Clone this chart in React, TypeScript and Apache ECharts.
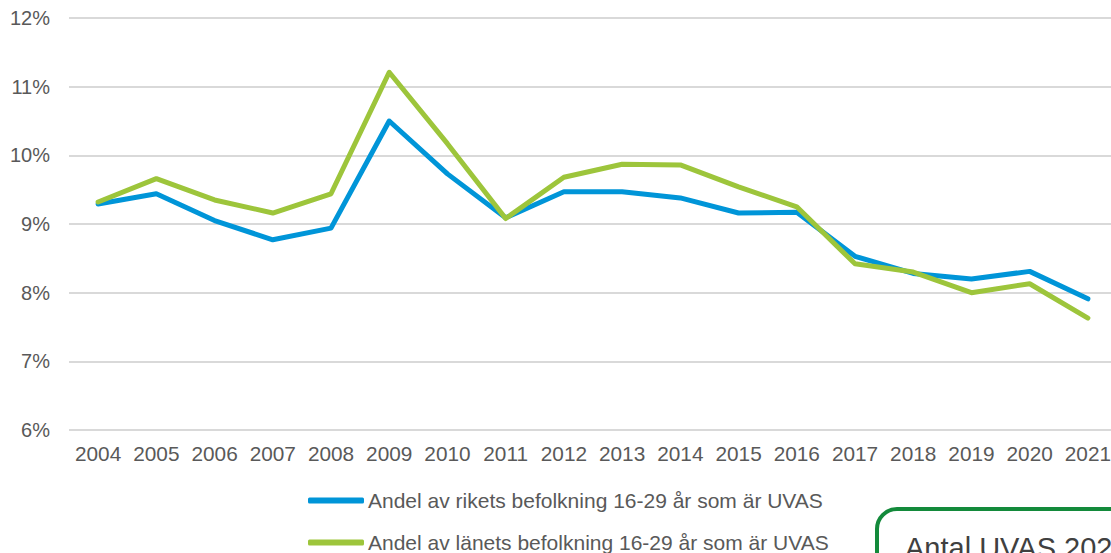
import React, { useEffect, useRef } from "react";
import * as echarts from "echarts";

const years = ["2004","2005","2006","2007","2008","2009","2010","2011","2012","2013","2014","2015","2016","2017","2018","2019","2020","2021"];
const riket = [9.29, 9.44, 9.05, 8.77, 8.94, 10.5, 9.73, 9.09, 9.47, 9.47, 9.38, 9.16, 9.17, 8.53, 8.28, 8.2, 8.31, 7.91];
const lanet = [9.32, 9.66, 9.35, 9.16, 9.44, 11.21, 10.17, 9.08, 9.68, 9.87, 9.86, 9.54, 9.25, 8.42, 8.3, 8.0, 8.13, 7.63];
const seriesNames = [
  "Andel av rikets befolkning 16-29 år som är UVAS",
  "Andel av länets befolkning 16-29 år som är UVAS",
];
const boxText = "Antal UVAS 2021";

export default function App() {
  const ref = useRef<HTMLDivElement>(null);
  useEffect(() => {
    const chart = echarts.init(ref.current!, undefined, { renderer: "svg" });
    const font = "'Liberation Sans', Arial, sans-serif";
    const legendBase = {
      orient: "horizontal",
      left: 308,
      padding: 0,
      itemWidth: 56,
      itemHeight: 6,
      icon: "roundRect",
      textStyle: { color: "#595959", fontSize: 21, fontFamily: font, padding: [0, 0, 0, -1] },
    };
    chart.setOption({
      animation: false,
      textStyle: { fontFamily: font },
      grid: { left: 69, right: 0, top: 18, bottom: 123, containLabel: false },
      xAxis: {
        type: "category",
        data: years,
        boundaryGap: true,
        axisLine: { show: false },
        axisTick: { show: false },
        axisLabel: { color: "#595959", fontSize: 20.8, margin: 13, fontFamily: font, interval: 0 },
      },
      yAxis: {
        type: "value",
        min: 6,
        max: 12,
        interval: 1,
        axisLine: { show: false },
        axisTick: { show: false },
        axisLabel: { color: "#595959", fontSize: 20, margin: 19, fontFamily: font, formatter: "{value}%" },
        splitLine: { lineStyle: { color: "#D9D9D9", width: 2 } },
      },
      legend: [
        { ...legendBase, top: 490, data: [seriesNames[0]] },
        { ...legendBase, top: 532, data: [seriesNames[1]] },
      ],
      series: [
        {
          name: seriesNames[0],
          type: "line",
          data: riket,
          symbol: "none",
          color: "#0095D8",
          lineStyle: { color: "#0095D8", width: 5, cap: "round", join: "round" },
        },
        {
          name: seriesNames[1],
          type: "line",
          data: lanet,
          symbol: "none",
          color: "#9DC53B",
          lineStyle: { color: "#9DC53B", width: 5, cap: "round", join: "round" },
        },
      ],
      graphic: [
        {
          type: "rect",
          left: 875,
          top: 507,
          shape: { width: 400, height: 200, r: 20 },
          style: { fill: "#ffffff", stroke: "#138A3B", lineWidth: 4 },
          z: 10,
        },
        {
          type: "text",
          left: 905,
          top: 533,
          style: { text: boxText, fontSize: 29, fill: "#404040", fontFamily: font },
          z: 11,
        },
      ],
    });
    return () => chart.dispose();
  }, []);
  return (
    <div style={{ position: "absolute", left: 0, top: 0, width: 1111, height: 553, overflow: "hidden" }}>
      <div ref={ref} style={{ width: 1117, height: 553 }} />
    </div>
  );
}
